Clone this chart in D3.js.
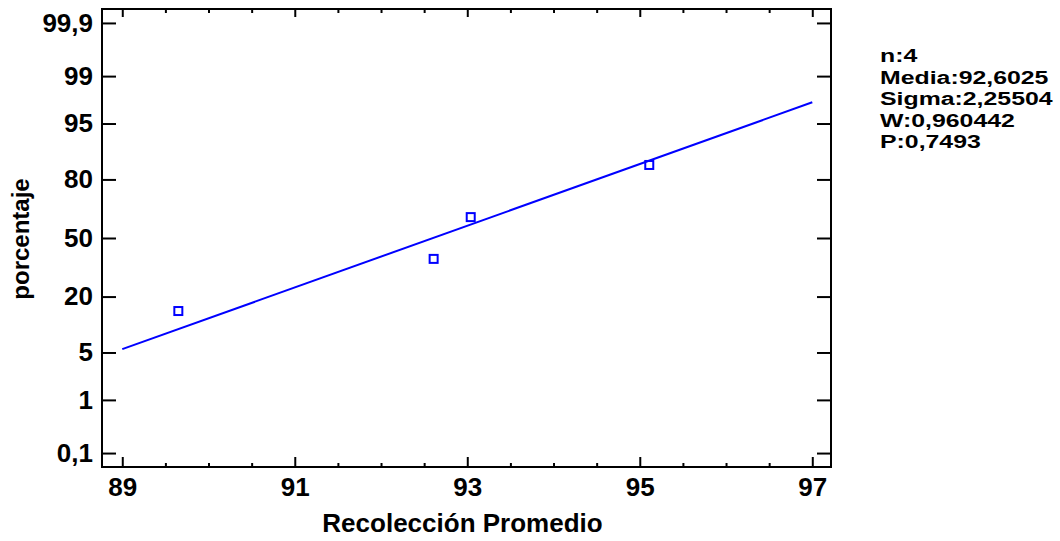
<!DOCTYPE html>
<html>
<head>
<meta charset="utf-8">
<script src="https://cdn.jsdelivr.net/npm/d3@7"></script>
<style>
  body { margin: 0; background: #fff; }
  text { font-family: "Liberation Sans", Arial, sans-serif; font-weight: bold; fill: #000; }
</style>
</head>
<body>
<script>
// data
let recoleccion = [89.65, 92.61, 93.04, 95.11]
let percentil = [14.7, 38.2, 61.8, 85.3]
let lineaX = [89, 97]
let lineaPct = [5.51, 97.44]
let xTicks = [89, 91, 93, 95, 97]
let yTicks = [0.1, 1, 5, 20, 50, 80, 95, 99, 99.9]
let yTickLabels = ['0,1', '1', '5', '20', '50', '80', '95', '99', '99,9']
let stats = ['n:4', 'Media:92,6025', 'Sigma:2,25504', 'W:0,960442', 'P:0,7493']

let svgWidth = 1060
let svgHeight = 541

let plot = {left: 102, right: 831, top: 9, bottom: 467}

// inverse normal cdf (Acklam)
function qnorm(p) {
    let a = [-3.969683028665376e+01, 2.209460984245205e+02, -2.759285104469687e+02, 1.383577518672690e+02, -3.066479806614716e+01, 2.506628277459239e+00]
    let b = [-5.447609879822406e+01, 1.615858368580409e+02, -1.556989798598866e+02, 6.680131188771972e+01, -1.328068155288572e+01]
    let c = [-7.784894002430293e-03, -3.223964580411365e-01, -2.400758277161838e+00, -2.549732539343734e+00, 4.374664141464968e+00, 2.938163982698783e+00]
    let d = [7.784695709041462e-03, 3.224671290700398e-01, 2.445134137142996e+00, 3.754408661907416e+00]
    let pl = 0.02425, q, r
    if (p < pl) {
        q = Math.sqrt(-2 * Math.log(p))
        return (((((c[0] * q + c[1]) * q + c[2]) * q + c[3]) * q + c[4]) * q + c[5]) / ((((d[0] * q + d[1]) * q + d[2]) * q + d[3]) * q + 1)
    }
    if (p > 1 - pl) {
        q = Math.sqrt(-2 * Math.log(1 - p))
        return -(((((c[0] * q + c[1]) * q + c[2]) * q + c[3]) * q + c[4]) * q + c[5]) / ((((d[0] * q + d[1]) * q + d[2]) * q + d[3]) * q + 1)
    }
    q = p - 0.5
    r = q * q
    return (((((a[0] * r + a[1]) * r + a[2]) * r + a[3]) * r + a[4]) * r + a[5]) * q / (((((b[0] * r + b[1]) * r + b[2]) * r + b[3]) * r + b[4]) * r + 1)
}

let x = d3.scaleLinear().domain([88.765, 97.217]).range([plot.left, plot.right])
let zMax = qnorm(0.9995)
let z = d3.scaleLinear().domain([-zMax, zMax]).range([plot.bottom, plot.top])
let y = pct => z(qnorm(pct / 100))

let svg = d3.select('body')
    .append('svg')
    .attr('width', svgWidth)
    .attr('height', svgHeight)

let minorX = d3.range(89, 97.01, 0.5).filter(v => !xTicks.includes(v))
let yTickZ = yTicks.map(p => qnorm(p / 100))

// bottom axis, ticks point inward
svg.append('g').attr('transform', `translate(0,${plot.bottom})`)
    .call(d3.axisBottom(x).tickValues(xTicks).tickSize(-10).tickPadding(11).tickFormat(d3.format('d')))
svg.append('g').attr('transform', `translate(0,${plot.bottom})`)
    .call(d3.axisBottom(x).tickValues(minorX).tickSize(-4).tickFormat(''))

// top axis
svg.append('g').attr('transform', `translate(0,${plot.top})`)
    .call(d3.axisTop(x).tickValues(xTicks).tickSize(-8).tickFormat(''))
svg.append('g').attr('transform', `translate(0,${plot.top})`)
    .call(d3.axisTop(x).tickValues(minorX).tickSize(-4).tickFormat(''))

// left axis
svg.append('g').attr('transform', `translate(${plot.left},0)`)
    .call(d3.axisLeft(z).tickValues(yTickZ).tickSize(-14).tickPadding(9)
        .tickFormat((d, i) => yTickLabels[i]))

// right axis
svg.append('g').attr('transform', `translate(${plot.right},0)`)
    .call(d3.axisRight(z).tickValues(yTickZ).tickSize(-14).tickFormat(''))

svg.selectAll('.domain').remove()
svg.selectAll('.tick line').attr('stroke', '#000').attr('stroke-width', 2)
svg.selectAll('.tick text').style('font-size', '26px').attr('fill', '#000')

// frame
svg.append('rect')
    .attr('x', plot.left)
    .attr('y', plot.top)
    .attr('width', plot.right - plot.left)
    .attr('height', plot.bottom - plot.top)
    .attr('fill', 'none')
    .attr('stroke', '#000')
    .attr('stroke-width', 2)

// fitted line
svg.append('line')
    .attr('x1', x(lineaX[0]))
    .attr('y1', y(lineaPct[0]))
    .attr('x2', x(lineaX[1]))
    .attr('y2', y(lineaPct[1]))
    .attr('stroke', '#0000ff')
    .attr('stroke-width', 2)

// points
svg.append('g')
    .selectAll('rect')
    .data(recoleccion)
    .enter()
    .append('rect')
    .attr('x', d => x(d) - 4)
    .attr('y', (d, i) => y(percentil[i]) - 4)
    .attr('width', 8)
    .attr('height', 8)
    .attr('fill', 'none')
    .attr('stroke', '#0000ff')
    .attr('stroke-width', 2)

// axis titles
svg.append('text')
    .attr('x', (plot.left + plot.right) / 2 - 4)
    .attr('y', 532)
    .attr('text-anchor', 'middle')
    .style('font-size', '26px')
    .text('Recolección Promedio')

svg.append('text')
    .attr('transform', 'translate(29,239) rotate(-90)')
    .attr('text-anchor', 'middle')
    .style('font-size', '24px')
    .text('porcentaje')

// stats
svg.append('g')
    .selectAll('text')
    .data(stats)
    .enter()
    .append('text')
    .attr('transform', (d, i) => `translate(880,${62 + i * 21.6}) scale(1.38,1)`)
    .style('font-size', '18px')
    .text(d => d)
</script>
</body>
</html>
